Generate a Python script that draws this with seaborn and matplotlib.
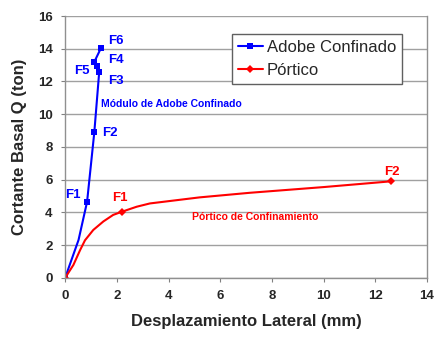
import numpy as np
import pandas as pd
import matplotlib
matplotlib.use("Agg")
import matplotlib.pyplot as plt
import seaborn as sns

# Adobe Confinado (blue) trace
adobe_x = [0.0, 0.52, 0.85, 1.13, 1.32, 1.22, 1.13, 1.39]
adobe_y = [0.0, 2.32, 4.65, 8.9, 12.6, 12.95, 13.2, 14.05]
adobe_mk_x = [0.0, 0.85, 1.13, 1.32, 1.22, 1.13, 1.39]
adobe_mk_y = [0.0, 4.65, 8.9, 12.6, 12.95, 13.2, 14.05]

# Portico curve (red), traced along the line + the three marked points
portico_x = [0.0, 0.32, 0.58, 0.77, 1.09, 1.48, 1.86, 2.19, 2.77, 3.28,
             5.2, 7.14, 10.0, 12.6]
portico_y = [0.0, 0.79, 1.7, 2.3, 2.93, 3.45, 3.85, 4.04, 4.35, 4.55,
             4.92, 5.2, 5.55, 5.9]
portico_mk_x = [0.0, 2.19, 12.6]
portico_mk_y = [0.0, 4.04, 5.9]

x_ticks = [0, 2, 4, 6, 8, 10, 12, 14]
y_ticks = [0, 2, 4, 6, 8, 10, 12, 14, 16]

sns.set_style("white")
plt.rcParams['font.family'] = ['Liberation Sans', 'DejaVu Sans']

fig = plt.figure(figsize=(4.34, 3.41), dpi=100)
ax = fig.add_axes([0.150, 0.185, 0.834, 0.768])

df_a = pd.DataFrame({'x': adobe_x, 'y': adobe_y})
df_p = pd.DataFrame({'x': portico_x, 'y': portico_y})

blue = '#0000ff'
red = '#ff0000'

sns.lineplot(data=df_a, x='x', y='y', sort=False, estimator=None,
             color=blue, lw=1.5, ax=ax)
ax.plot(adobe_mk_x, adobe_mk_y, ls='none', marker='s', markersize=4,
        color=blue, markeredgewidth=0)
sns.lineplot(data=df_p, x='x', y='y', sort=False, estimator=None,
             color=red, lw=1.5, ax=ax)
ax.plot(portico_mk_x, portico_mk_y, ls='none', marker='D', markersize=4.5,
        color=red, markeredgewidth=0)

# legend proxies (line + marker)
ax.plot([], [], color=blue, lw=1.5, marker='s', markersize=4,
        markeredgewidth=0, label='Adobe Confinado')
ax.plot([], [], color=red, lw=1.5, marker='D', markersize=4,
        markeredgewidth=0, label='Pórtico')

ax.set_xlim(0, 14)
ax.set_ylim(0, 16)
ax.set_xticks(x_ticks)
ax.set_yticks(y_ticks)
ax.tick_params(axis='both', labelsize=9.5, length=3, direction='out',
               color='#808080', pad=6)
ax.tick_params(axis='x', bottom=True)
ax.tick_params(axis='y', left=True)
for lab in ax.get_xticklabels() + ax.get_yticklabels():
    lab.set_fontweight('bold')

ax.yaxis.grid(True, color='#a0a0a0', lw=1)
ax.set_axisbelow(True)
for side in ['left', 'bottom', 'right']:
    ax.spines[side].set_color('#909090')
    ax.spines[side].set_linewidth(1)
ax.spines['top'].set_visible(False)

ax.set_xlabel('Desplazamiento Lateral (mm)', fontsize=12, fontweight='bold',
              labelpad=8)
ax.set_ylabel('Cortante Basal Q (ton)', fontsize=12, fontweight='bold',
              labelpad=8)

# point labels
kw = dict(fontsize=9.5, fontweight='bold', va='center')
ax.text(1.66, 14.5, 'F6', color=blue, ha='left', **kw)
ax.text(1.66, 13.3, 'F4', color=blue, ha='left', **kw)
ax.text(1.66, 12.05, 'F3', color=blue, ha='left', **kw)
ax.text(0.95, 12.65, 'F5', color=blue, ha='right', **kw)
ax.text(1.43, 8.85, 'F2', color=blue, ha='left', **kw)
ax.text(0.6, 5.05, 'F1', color=blue, ha='right', **kw)
ax.text(2.1, 4.9, 'F1', color=red, ha='center', **kw)
ax.text(12.63, 6.45, 'F2', color=red, ha='center', **kw)
ax.text(1.39, 10.6, 'Módulo de Adobe Confinado', color=blue, ha='left',
        fontsize=7.5, fontweight='bold', va='center')
ax.text(4.9, 3.7, 'Pórtico de Confinamiento', color=red, ha='left',
        fontsize=7.5, fontweight='bold', va='center')

leg = ax.legend(loc='upper left', bbox_to_anchor=(0.461, 0.93), fontsize=12,
                frameon=True, fancybox=False, handlelength=1.5,
                handletextpad=0.25, borderpad=0.35, labelspacing=0.45,
                borderaxespad=0)
leg.get_frame().set_edgecolor('#606060')
leg.get_frame().set_linewidth(1)
leg.get_frame().set_alpha(1)

fig.savefig('out.png', dpi=100)
